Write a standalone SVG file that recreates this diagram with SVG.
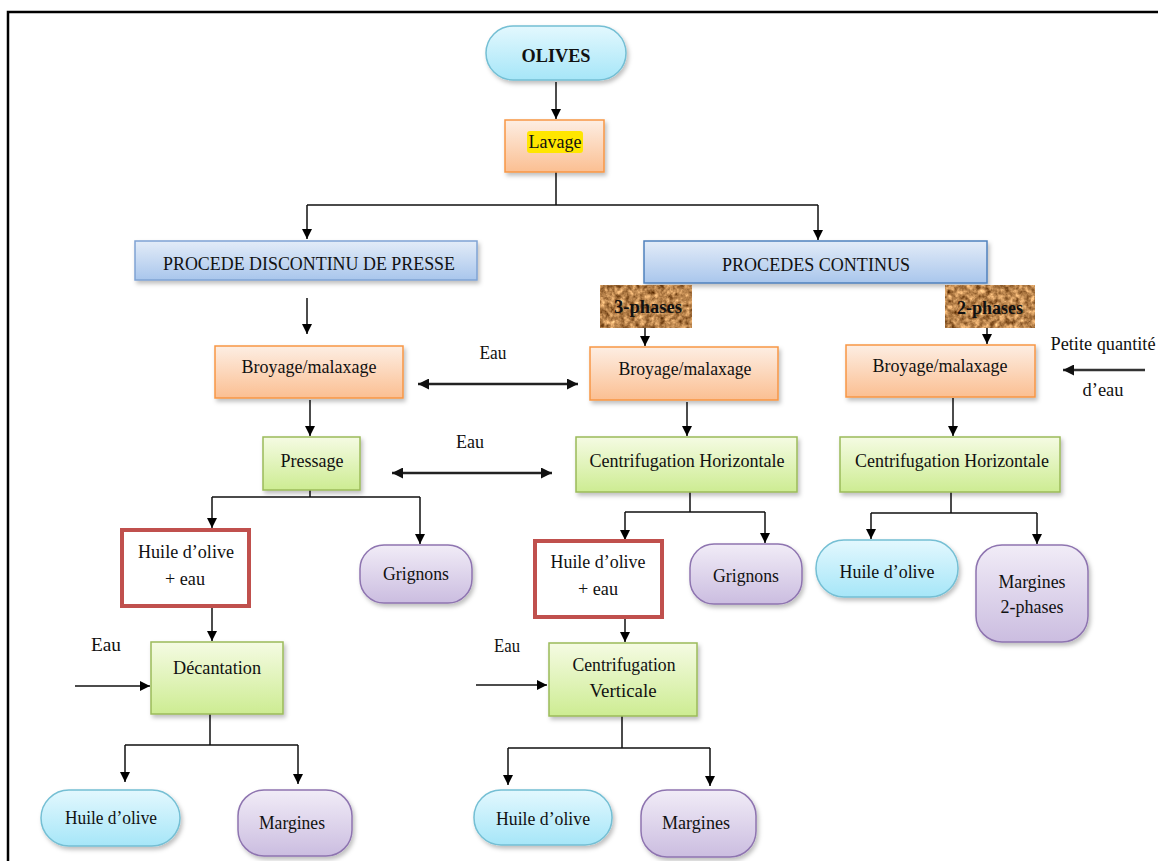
<svg xmlns="http://www.w3.org/2000/svg" width="1158" height="861" viewBox="0 0 1158 861">
<defs>
<linearGradient id="gCyan" x1="0" y1="0" x2="0" y2="1"><stop offset="0" stop-color="#e3f8fe"/><stop offset="1" stop-color="#a6e6f8"/></linearGradient>
<linearGradient id="gOrange" x1="0" y1="0" x2="0" y2="1"><stop offset="0" stop-color="#fdeee3"/><stop offset="1" stop-color="#fbbf92"/></linearGradient>
<linearGradient id="gBlue" x1="0" y1="0" x2="0" y2="1"><stop offset="0" stop-color="#e3ecf8"/><stop offset="1" stop-color="#a9c6ec"/></linearGradient>
<linearGradient id="gGreen" x1="0" y1="0" x2="0" y2="1"><stop offset="0" stop-color="#f5fbe3"/><stop offset="1" stop-color="#cdec92"/></linearGradient>
<linearGradient id="gPurple" x1="0" y1="0" x2="0" y2="1"><stop offset="0" stop-color="#f1ecf7"/><stop offset="1" stop-color="#cbbde0"/></linearGradient>
<filter id="shadow" x="-10%" y="-10%" width="130%" height="140%"><feDropShadow dx="2" dy="3" stdDeviation="2" flood-color="#000" flood-opacity="0.25"/></filter>
<filter id="cork" x="0" y="0" width="100%" height="100%" color-interpolation-filters="sRGB">
<feTurbulence type="fractalNoise" baseFrequency="0.2" numOctaves="3" seed="7" result="n"/>
<feColorMatrix in="n" type="saturate" values="0" result="g"/>
<feComponentTransfer in="g" result="c">
<feFuncR type="linear" slope="1.3" intercept="0.08"/>
<feFuncG type="linear" slope="1.2" intercept="-0.08"/>
<feFuncB type="linear" slope="1.0" intercept="-0.2"/>
<feFuncA type="linear" slope="0" intercept="1"/>
</feComponentTransfer>
<feComposite in="c" in2="SourceGraphic" operator="in"/>
</filter>
<marker id="ah" viewBox="0 0 10 10" refX="10" refY="5" markerWidth="10" markerHeight="10" markerUnits="userSpaceOnUse" orient="auto-start-reverse"><path d="M0,0 L10,5 L0,10 z" fill="#000"/></marker>
<marker id="ah2" viewBox="0 0 10 10" refX="10" refY="5" markerWidth="11" markerHeight="11" markerUnits="userSpaceOnUse" orient="auto-start-reverse"><path d="M0,0 L10,5 L0,10 z" fill="#111"/></marker>
</defs>
<style>
text{font-family:"Liberation Serif","Times New Roman",serif;font-size:19px;fill:#111;text-anchor:middle}
.cy{fill:url(#gCyan);stroke:#74bfd4;stroke-width:1.5;filter:url(#shadow)}
.or{fill:url(#gOrange);stroke:#f79646;stroke-width:1.5;filter:url(#shadow)}
.bl{fill:url(#gBlue);stroke:#7fa3d3;stroke-width:1.5;filter:url(#shadow)}
.bl2{fill:url(#gBlue);stroke:#4f81bd;stroke-width:1.5;filter:url(#shadow)}
.gr{fill:url(#gGreen);stroke:#9bbb59;stroke-width:1.5;filter:url(#shadow)}
.pu{fill:url(#gPurple);stroke:#8e74b0;stroke-width:1.5;filter:url(#shadow)}
.rd{fill:#fff;stroke:#c0504d;stroke-width:4}
.ck{filter:url(#cork)}
.ln{fill:none;stroke:#111;stroke-width:1.5}
.ar{fill:none;stroke:#111;stroke-width:1.5;marker-end:url(#ah)}
.da{fill:none;stroke:#222;stroke-width:2.5;marker-end:url(#ah2);marker-start:url(#ah2)}
.sa{fill:none;stroke:#333;stroke-width:2.5;marker-end:url(#ah2)}
</style>
<rect width="1158" height="861" fill="#fff"/>
<path d="M8,861 L8,12 L1158,12" fill="none" stroke="#000" stroke-width="2.5"/>

<g id="connectors">
<line class="ar" x1="556" y1="82" x2="556" y2="119"/>
<path class="ln" d="M556,172 V205 M307,205 H818"/>
<line class="ar" x1="307" y1="205" x2="307" y2="239"/>
<line class="ar" x1="818" y1="205" x2="818" y2="240"/>
<line class="ar" x1="307" y1="298" x2="307" y2="334"/>
<line class="ar" x1="645" y1="328" x2="645" y2="346"/>
<line class="ar" x1="987" y1="328" x2="987" y2="344"/>
<line class="da" x1="418" y1="384" x2="578" y2="384"/>
<line class="da" x1="392" y1="473" x2="552" y2="473"/>
<line class="sa" x1="1145" y1="370" x2="1063" y2="370"/>
<line class="ar" x1="310" y1="400" x2="310" y2="436"/>
<line class="ar" x1="687" y1="402" x2="687" y2="436"/>
<line class="ar" x1="953" y1="398" x2="953" y2="436"/>
<path class="ln" d="M310,490 V497 M212,497 H420"/>
<line class="ar" x1="212" y1="497" x2="212" y2="528"/>
<line class="ar" x1="420" y1="497" x2="420" y2="544"/>
<path class="ln" d="M690,492 V512 M625,512 H765"/>
<line class="ar" x1="625" y1="512" x2="625" y2="540"/>
<line class="ar" x1="765" y1="512" x2="765" y2="543"/>
<path class="ln" d="M951,492 V513 M871,513 H1037"/>
<line class="ar" x1="871" y1="513" x2="871" y2="539"/>
<line class="ar" x1="1037" y1="513" x2="1037" y2="544"/>
<line class="ar" x1="212" y1="606" x2="212" y2="641"/>
<line class="ar" x1="625" y1="617" x2="625" y2="642"/>
<line class="ar" x1="75" y1="686" x2="150" y2="686"/>
<line class="ar" x1="476" y1="685" x2="547" y2="685"/>
<path class="ln" d="M210,714 V745 M125,745 H298"/>
<line class="ar" x1="125" y1="745" x2="125" y2="782"/>
<line class="ar" x1="298" y1="745" x2="298" y2="784"/>
<path class="ln" d="M622,716 V748 M508,748 H710"/>
<line class="ar" x1="508" y1="748" x2="508" y2="785"/>
<line class="ar" x1="710" y1="748" x2="710" y2="786"/>
</g>

<g id="labels">
<text x="493" y="359" textLength="27" lengthAdjust="spacingAndGlyphs">Eau</text>
<text x="470" y="448" textLength="28" lengthAdjust="spacingAndGlyphs">Eau</text>
<text x="106" y="651" textLength="30" lengthAdjust="spacingAndGlyphs">Eau</text>
<text x="507" y="652" textLength="26" lengthAdjust="spacingAndGlyphs">Eau</text>
<text x="1103" y="350" textLength="105" lengthAdjust="spacingAndGlyphs">Petite quantité</text>
<text x="1103" y="396" textLength="41" lengthAdjust="spacingAndGlyphs">d’eau</text>
</g>

<g id="olives"><rect class="cy" x="486" y="26" width="140" height="54" rx="27"/><text x="556" y="62" font-weight="bold" textLength="69" lengthAdjust="spacingAndGlyphs">OLIVES</text></g>
<g id="lavage"><rect class="or" x="505" y="120" width="99" height="52"/><rect x="527" y="131" width="56" height="22" rx="3" fill="#ffe600"/><text x="555" y="148" textLength="53" lengthAdjust="spacingAndGlyphs">Lavage</text></g>
<g id="discontinu"><rect class="bl" x="135" y="241" width="342" height="39"/><text x="309" y="270" textLength="292" lengthAdjust="spacingAndGlyphs">PROCEDE DISCONTINU DE PRESSE</text></g>
<g id="continus"><rect class="bl2" x="644" y="241" width="343" height="42"/><text x="816" y="271" textLength="188" lengthAdjust="spacingAndGlyphs">PROCEDES CONTINUS</text></g>
<g id="phases3"><rect class="ck" x="600" y="285" width="92" height="43" fill="#c49a66"/><text x="648" y="313" font-weight="bold" textLength="68" lengthAdjust="spacingAndGlyphs">3-phases</text></g>
<g id="phases2"><rect class="ck" x="945" y="285" width="90" height="43" fill="#c49a66"/><text x="990" y="314" font-weight="bold" textLength="66" lengthAdjust="spacingAndGlyphs">2-phases</text></g>
<g id="broyage1"><rect class="or" x="215" y="346" width="188" height="52"/><text x="309" y="373" textLength="135" lengthAdjust="spacingAndGlyphs">Broyage/malaxage</text></g>
<g id="broyage2"><rect class="or" x="590" y="347" width="188" height="53"/><text x="685" y="375" textLength="133" lengthAdjust="spacingAndGlyphs">Broyage/malaxage</text></g>
<g id="broyage3"><rect class="or" x="846" y="345" width="189" height="52"/><text x="940" y="372" textLength="135" lengthAdjust="spacingAndGlyphs">Broyage/malaxage</text></g>
<g id="pressage"><rect class="gr" x="263" y="437" width="97" height="53"/><text x="312" y="467" textLength="63" lengthAdjust="spacingAndGlyphs">Pressage</text></g>
<g id="centriH1"><rect class="gr" x="576" y="437" width="221" height="55"/><text x="687" y="467" textLength="195" lengthAdjust="spacingAndGlyphs">Centrifugation Horizontale</text></g>
<g id="centriH2"><rect class="gr" x="840" y="437" width="220" height="55"/><text x="952" y="467" textLength="194" lengthAdjust="spacingAndGlyphs">Centrifugation Horizontale</text></g>
<g id="huileEau1"><rect class="rd" x="122" y="530" width="127" height="76"/><text x="186" y="558" textLength="96" lengthAdjust="spacingAndGlyphs">Huile d’olive</text><text x="185" y="585" textLength="40" lengthAdjust="spacingAndGlyphs">+ eau</text></g>
<g id="grignons1"><rect class="pu" x="360" y="545" width="112" height="58" rx="24"/><text x="416" y="580" textLength="66" lengthAdjust="spacingAndGlyphs">Grignons</text></g>
<g id="huileEau2"><rect class="rd" x="535" y="541" width="127" height="76"/><text x="598" y="568" textLength="95" lengthAdjust="spacingAndGlyphs">Huile d’olive</text><text x="598" y="595" textLength="40" lengthAdjust="spacingAndGlyphs">+ eau</text></g>
<g id="grignons2"><rect class="pu" x="690" y="544" width="112" height="60" rx="24"/><text x="746" y="582" textLength="66" lengthAdjust="spacingAndGlyphs">Grignons</text></g>
<g id="huile3"><rect class="cy" x="816" y="540" width="142" height="57" rx="28"/><text x="887" y="578" textLength="95" lengthAdjust="spacingAndGlyphs">Huile d’olive</text></g>
<g id="margines3"><rect class="pu" x="976" y="545" width="112" height="97" rx="26"/><text x="1032" y="588" textLength="67" lengthAdjust="spacingAndGlyphs">Margines</text><text x="1032" y="613" textLength="63" lengthAdjust="spacingAndGlyphs">2-phases</text></g>
<g id="decantation"><rect class="gr" x="151" y="642" width="132" height="72"/><text x="217" y="674" textLength="88" lengthAdjust="spacingAndGlyphs">Décantation</text></g>
<g id="centriV"><rect class="gr" x="549" y="643" width="148" height="73"/><text x="624" y="671" textLength="103" lengthAdjust="spacingAndGlyphs">Centrifugation</text><text x="623" y="697" textLength="67" lengthAdjust="spacingAndGlyphs">Verticale</text></g>
<g id="huile1"><rect class="cy" x="41" y="790" width="139" height="56" rx="28"/><text x="111" y="824" textLength="92" lengthAdjust="spacingAndGlyphs">Huile d’olive</text></g>
<g id="margines1"><rect class="pu" x="238" y="790" width="114" height="66" rx="26"/><text x="292" y="829" textLength="66" lengthAdjust="spacingAndGlyphs">Margines</text></g>
<g id="huile2"><rect class="cy" x="474" y="790" width="138" height="55" rx="27"/><text x="543" y="825" textLength="94" lengthAdjust="spacingAndGlyphs">Huile d’olive</text></g>
<g id="margines2"><rect class="pu" x="641" y="790" width="115" height="67" rx="26"/><text x="696" y="829" textLength="68" lengthAdjust="spacingAndGlyphs">Margines</text></g>
</svg>
